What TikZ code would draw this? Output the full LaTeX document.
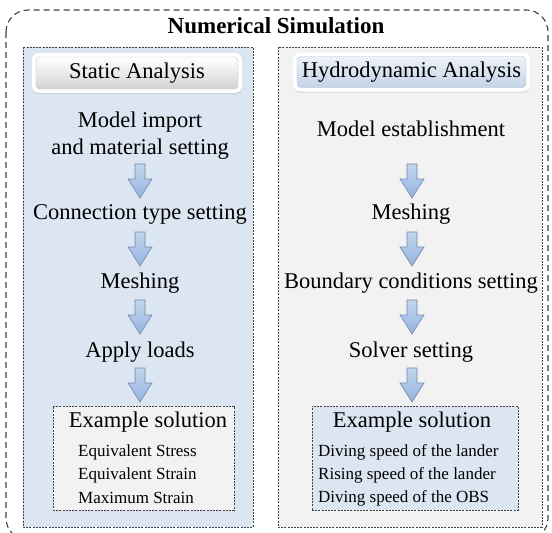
\documentclass[tikz,border=0pt]{standalone}
\usepackage{fontspec}
\setmainfont{Liberation Serif}
\usetikzlibrary{positioning,shadows}
\definecolor{paleblue}{HTML}{DCE6F2}
\definecolor{palegray}{HTML}{F2F2F2}
\definecolor{btnblue}{HTML}{C4D4E9}
\definecolor{arrowblue}{HTML}{93B4E0}
\definecolor{arrowedge}{HTML}{6F87A8}
\definecolor{lineclr}{HTML}{404040}

\begin{document}
\begin{tikzpicture}[x=1pt, y=-1pt,
lbl/.style={inner sep=0pt, font=\fontsize{22.5}{27}\selectfont, align=center},
sml/.style={inner sep=0pt, anchor=west, font=\fontsize{17}{20}\selectfont},
panel/.style={draw=lineclr, line width=0.7pt, dash pattern=on 2pt off 1.2pt},
glow/.style={fill=white, rounded corners=7pt, inner sep=0pt, drop shadow={opacity=0.25, shadow xshift=0pt, shadow yshift=-1.2pt}},
btn/.style={rounded corners=4pt, inner sep=0pt, draw=black!25, font=\fontsize{22.5}{27}\selectfont},
flowarrow/.pic={\draw[arrowedge, top color=arrowblue!55!white, bottom color=arrowblue, line width=0.6pt] (-5,-17) -- (5,-17) -- (5,-2) -- (12,-2) -- (0,17) -- (-12,-2) -- (-5,-2) -- cycle;}]
\useasboundingbox (0,0) rectangle (552,533);
% frame and the two columns
\draw[lineclr, line width=1.1pt, dash pattern=on 6pt off 4pt, rounded corners=22pt] (6,10) rectangle (548,540);
\draw[panel, fill=paleblue] (23,47) rectangle (253,527);
\draw[panel, fill=palegray] (278,47) rectangle (542,527);
\node[font=\fontsize{23}{27}\selectfont\bfseries, inner sep=0pt] (title) at (276,26) {Numerical Simulation};

% header buttons
\node[glow, minimum width=210pt, minimum height=40pt] (gs) at (137,73) {};
\node[btn, top color=white, bottom color=black!17, minimum width=202pt, minimum height=32pt] (static) at (gs) {Static Analysis};
\node[glow, minimum width=237pt, minimum height=39pt] (gh) at (411.5,72) {};
\node[btn, top color=paleblue!50!white, bottom color=btnblue, minimum width=229pt, minimum height=31pt] (hydro) at (gh) {Hydrodynamic Analysis};

% static steps
\node[lbl] (l1) at (140,136) {Model import\\and material setting};
\pic (a1) at (140,181) {flowarrow};
\node[lbl] (l2) at (140,214) {Connection type setting};
\pic (a2) at (140,249) {flowarrow};
\node[lbl] (l3) at (140,283) {Meshing};
\pic (a3) at (140,317) {flowarrow};
\node[lbl] (l4) at (140,352) {Apply loads};
\pic (a4) at (140,385) {flowarrow};
\node[panel, fill=palegray, minimum width=181pt, minimum height=104pt, inner sep=0pt] (exL) at (143.5,458) {};
\node[lbl] (exLt) at (148,422) {Example solution};
\node[sml] (exL1) at (78,452) {Equivalent Stress};
\node[sml] (exL2) at (78,475) {Equivalent Strain};
\node[sml] (exL3) at (78,498) {Maximum Strain};

% hydrodynamic steps
\node[lbl] (r1) at (411,129) {Model establishment};
\pic (b1) at (412,181) {flowarrow};
\node[lbl] (r2) at (411,214) {Meshing};
\pic (b2) at (412,249) {flowarrow};
\node[lbl] (r3) at (411,283) {Boundary conditions setting};
\pic (b3) at (412,317) {flowarrow};
\node[lbl] (r4) at (411,352) {Solver setting};
\pic (b4) at (412,385) {flowarrow};
\node[panel, fill=paleblue, minimum width=206pt, minimum height=104pt, inner sep=0pt] (exR) at (415,458) {};
\node[lbl] (exRt) at (412,422) {Example solution};
\node[sml] (exR1) at (318,452) {Diving speed of the lander};
\node[sml] (exR2) at (318,475) {Rising speed of the lander};
\node[sml] (exR3) at (318,498) {Diving speed of the OBS};
\end{tikzpicture}
\end{document}
